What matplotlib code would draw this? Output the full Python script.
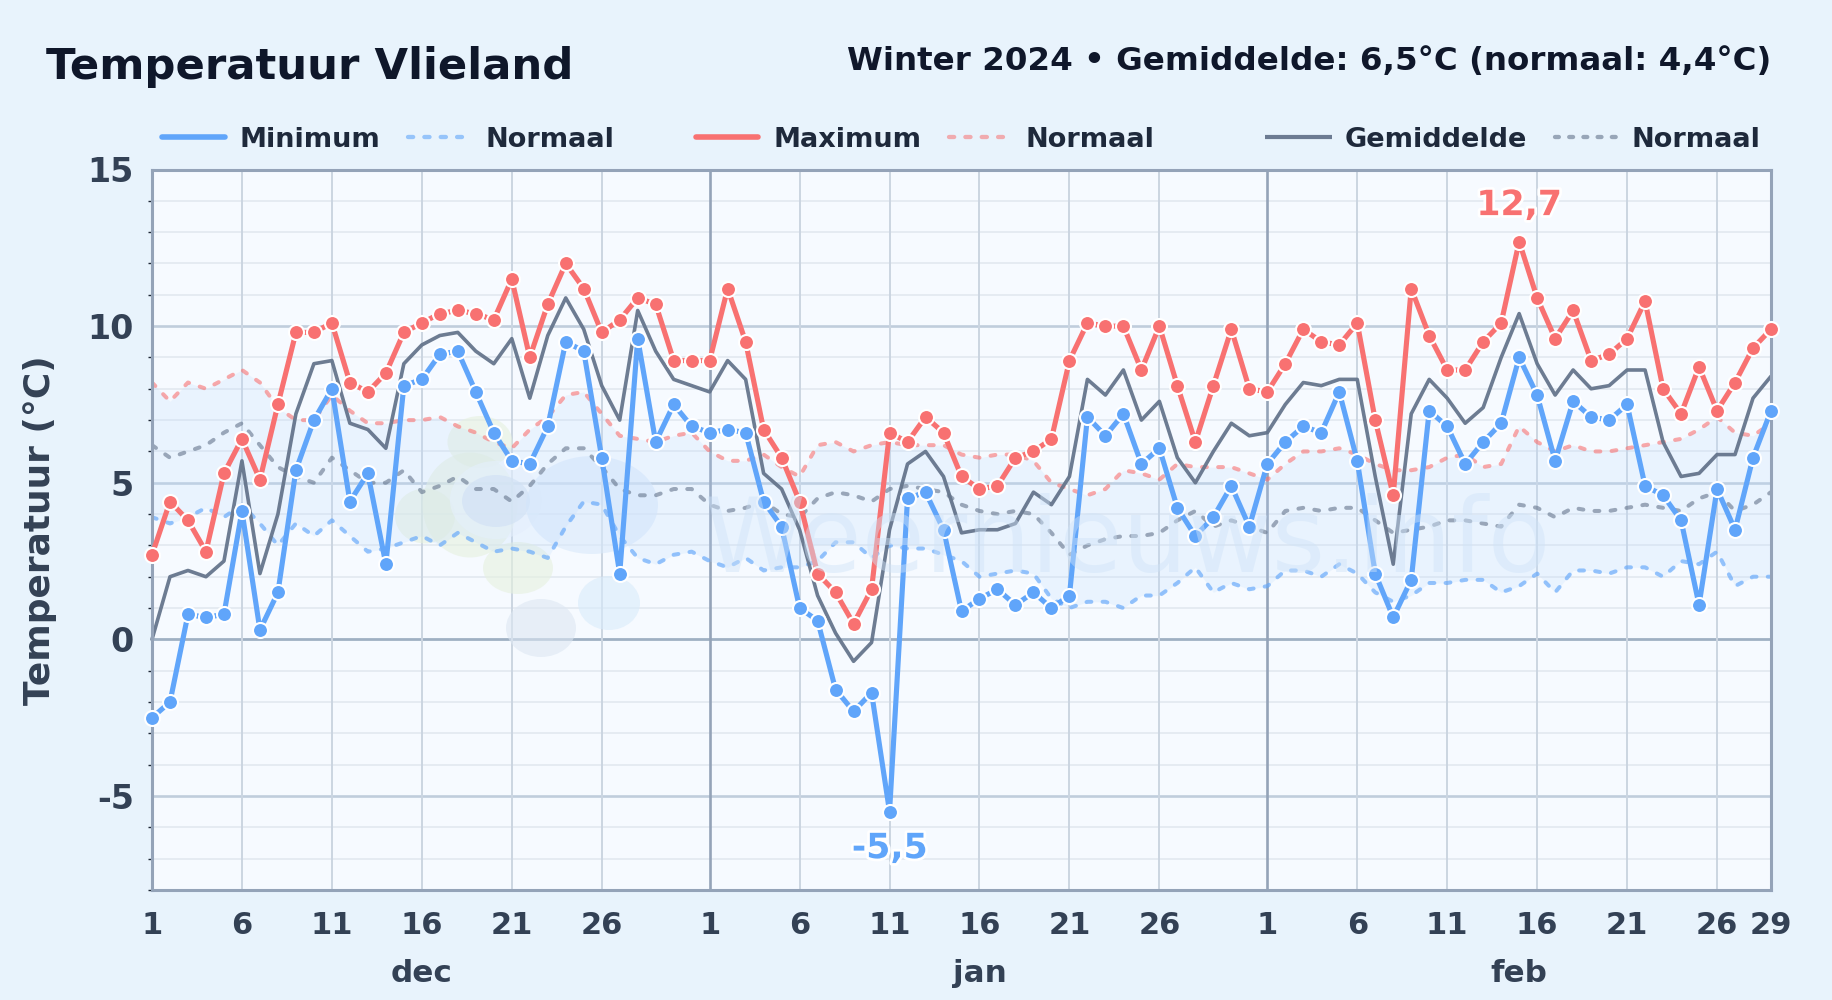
import numpy as np
import matplotlib
matplotlib.use("Agg")
import matplotlib.pyplot as plt
import matplotlib.patheffects as pe
from matplotlib.lines import Line2D
from matplotlib.patches import Ellipse
from matplotlib.ticker import FixedLocator, FixedFormatter

plt.rcParams["axes.unicode_minus"] = False

# daily values, 1 dec 2023 - 29 feb 2024
temp_min = [-2.5, -2.0, 0.8, 0.7, 0.8, 4.1, 0.3, 1.5, 5.4, 7.0, 8.0, 4.4, 5.3, 2.4, 8.1, 8.3, 9.1, 9.2, 7.9, 6.6,
            5.7, 5.6, 6.8, 9.5, 9.2, 5.8, 2.1, 9.6, 6.3, 7.5, 6.8,
            6.6, 6.7, 6.6, 4.4, 3.6, 1.0, 0.6, -1.6, -2.3, -1.7, -5.5, 4.5, 4.7, 3.5, 0.9, 1.3, 1.6, 1.1, 1.5, 1.0,
            1.4, 7.1, 6.5, 7.2, 5.6, 6.1, 4.2, 3.3, 3.9, 4.9, 3.6,
            5.6, 6.3, 6.8, 6.6, 7.9, 5.7, 2.1, 0.7, 1.9, 7.3, 6.8, 5.6, 6.3, 6.9, 9.0, 7.8, 5.7, 7.6, 7.1, 7.0,
            7.5, 4.9, 4.6, 3.8, 1.1, 4.8, 3.5, 5.8, 7.3]
temp_max = [2.7, 4.4, 3.8, 2.8, 5.3, 6.4, 5.1, 7.5, 9.8, 9.8, 10.1, 8.2, 7.9, 8.5, 9.8, 10.1, 10.4, 10.5, 10.4, 10.2,
            11.5, 9.0, 10.7, 12.0, 11.2, 9.8, 10.2, 10.9, 10.7, 8.9, 8.9,
            8.9, 11.2, 9.5, 6.7, 5.8, 4.4, 2.1, 1.5, 0.5, 1.6, 6.6, 6.3, 7.1, 6.6, 5.2, 4.8, 4.9, 5.8, 6.0, 6.4,
            8.9, 10.1, 10.0, 10.0, 8.6, 10.0, 8.1, 6.3, 8.1, 9.9, 8.0,
            7.9, 8.8, 9.9, 9.5, 9.4, 10.1, 7.0, 4.6, 11.2, 9.7, 8.6, 8.6, 9.5, 10.1, 12.7, 10.9, 9.6, 10.5, 8.9, 9.1,
            9.6, 10.8, 8.0, 7.2, 8.7, 7.3, 8.2, 9.3, 9.9]
temp_mean = [0.0, 2.0, 2.2, 2.0, 2.5, 5.7, 2.1, 4.0, 7.2, 8.8, 8.9, 6.9, 6.7, 6.1, 8.8, 9.4, 9.7, 9.8, 9.2, 8.8,
             9.6, 7.7, 9.7, 10.9, 9.9, 8.1, 7.0, 10.5, 9.2, 8.3, 8.1,
             7.9, 8.9, 8.3, 5.3, 4.8, 3.5, 1.4, 0.2, -0.7, -0.1, 3.5, 5.6, 6.0, 5.2, 3.4, 3.5, 3.5, 3.7, 4.7, 4.3,
             5.2, 8.3, 7.8, 8.6, 7.0, 7.6, 5.8, 5.0, 6.0, 6.9, 6.5,
             6.6, 7.5, 8.2, 8.1, 8.3, 8.3, 5.2, 2.4, 7.2, 8.3, 7.7, 6.9, 7.4, 9.0, 10.4, 8.8, 7.8, 8.6, 8.0, 8.1,
             8.6, 8.6, 6.3, 5.2, 5.3, 5.9, 5.9, 7.7, 8.4]
norm_min = [3.9, 3.7, 3.9, 4.2, 3.9, 4.3, 3.7, 3.0, 3.7, 3.3, 3.8, 3.3, 2.8, 2.9, 3.1, 3.3, 3.0, 3.4, 3.1, 2.8,
            2.9, 2.8, 2.6, 3.6, 4.4, 4.3, 3.3, 2.6, 2.4, 2.7, 2.8,
            2.5, 2.3, 2.6, 2.2, 2.3, 2.3, 2.5, 3.1, 3.1, 2.6, 3.0, 2.9, 2.9, 2.7, 2.5, 2.0, 2.1, 2.2, 2.1, 1.3,
            1.0, 1.2, 1.2, 1.0, 1.4, 1.4, 1.8, 2.3, 1.5, 1.8, 1.6,
            1.7, 2.2, 2.2, 2.0, 2.4, 2.1, 1.5, 1.2, 1.4, 1.8, 1.8, 1.9, 1.9, 1.5, 1.7, 2.1, 1.5, 2.2, 2.2, 2.1,
            2.3, 2.3, 2.0, 2.5, 2.4, 2.8, 1.7, 2.0, 2.0]
norm_max = [8.2, 7.6, 8.2, 8.0, 8.3, 8.6, 8.2, 7.4, 7.0, 7.0, 7.8, 7.3, 6.9, 6.9, 7.0, 7.0, 7.1, 6.8, 6.6, 6.3,
            6.1, 6.7, 7.1, 7.8, 7.9, 7.2, 6.5, 6.4, 6.3, 6.5, 6.6,
            6.0, 5.7, 5.7, 5.9, 5.5, 5.2, 6.2, 6.3, 6.0, 6.2, 6.3, 6.2, 6.2, 6.2, 5.9, 5.8, 5.9, 5.9, 5.7, 5.0,
            4.8, 4.6, 4.8, 5.4, 5.3, 5.1, 5.6, 5.5, 5.5, 5.5, 5.3,
            5.1, 5.6, 6.0, 6.0, 6.1, 5.9, 5.6, 5.4, 5.4, 5.5, 5.8, 5.9, 5.5, 5.6, 6.8, 6.3, 6.0, 6.2, 6.0, 6.0,
            6.1, 6.2, 6.3, 6.4, 6.7, 7.1, 6.6, 6.5, 6.9]
norm_mean = [6.2, 5.8, 6.0, 6.2, 6.6, 6.9, 6.2, 5.5, 5.2, 5.0, 5.8, 5.4, 5.0, 5.0, 5.4, 4.7, 4.9, 5.2, 4.8, 4.8,
             4.4, 4.9, 5.6, 6.1, 6.1, 5.5, 4.8, 4.6, 4.6, 4.8, 4.8,
             4.3, 4.1, 4.2, 4.4, 4.0, 3.9, 4.5, 4.7, 4.6, 4.4, 4.8, 4.9, 4.8, 4.7, 4.3, 4.1, 4.0, 4.1, 4.0, 3.4,
             2.7, 3.0, 3.2, 3.3, 3.3, 3.4, 3.8, 4.1, 3.6, 3.8, 3.6,
             3.4, 4.1, 4.2, 4.1, 4.2, 4.2, 3.8, 3.4, 3.5, 3.6, 3.8, 3.8, 3.7, 3.6, 4.3, 4.2, 3.9, 4.2, 4.1, 4.1,
             4.2, 4.3, 4.2, 4.1, 4.5, 4.7, 4.1, 4.3, 4.7]

month_names = ["dec", "jan", "feb"]
month_starts = [0, 31, 62]
month_centers = [15, 46, 76]
day_ticks = [0, 5, 10, 15, 20, 25, 31, 36, 41, 46, 51, 56, 62, 67, 72, 77, 82, 87, 90]
day_labels = ["1", "6", "11", "16", "21", "26", "1", "6", "11", "16", "21", "26", "1", "6", "11", "16", "21", "26", "29"]

BLUE = "#60a5fa"
RED = "#f87171"
GREY = "#64748b"
INK = "#0f172a"
LABEL = "#334155"
W, H = 1832, 1000

days = np.arange(len(temp_min))

fig = plt.figure(figsize=(W / 100, H / 100), dpi=100, facecolor="#e8f3fc")
ax = fig.add_axes([152 / W, 1 - 890 / H, (1771 - 152) / W, (890 - 169.5) / H], facecolor="#f6faff")
ax.set_xlim(0, 90)
ax.set_ylim(-8, 15)

# grid
for y in range(-7, 15):
    if y % 5:
        ax.axhline(y, color="#e4eaf1", lw=1.3, zorder=1)
    elif y:
        ax.axhline(y, color="#c0cddc", lw=1.9, zorder=1)
ax.axhline(0, color="#9fb0c3", lw=2.0, zorder=1)
for d in day_ticks:
    ax.axvline(d, color="#94a3b8" if d in month_starts else "#cbd5e1", lw=1.9 if d in month_starts else 1.4, zorder=1)

# faint logo + site name behind the data (pixel positions of the figure)
blobs = [(470, 505, 95, 105, "#e6f1df"), (480, 442, 65, 52, "#e6f1df"), (425, 516, 60, 55, "#e6f1df"),
         (518, 568, 70, 52, "#e6f1df"), (496, 500, 92, 78, "#f0f6fd"), (496, 501, 68, 52, "#d4e2f2"),
         (592, 505, 132, 98, "#d8e9fb"), (541, 628, 70, 58, "#dde7f3"), (609, 603, 62, 54, "#d8ebfb")]
for bx, by, bw, bh, col in blobs:
    ax.add_patch(Ellipse((bx, H - by), bw, bh, transform=None, facecolor=col, edgecolor="none", alpha=0.6, zorder=1.2))
fig.text(1127 / W, 1 - 572 / H, "Weernieuws.info", fontsize=74, color="#cfe3f8", alpha=0.45, ha="center", va="baseline", zorder=1.3)

# normal band
ax.fill_between(days, norm_min, norm_max, color="#bfdbfe", alpha=0.22, lw=0, zorder=1.5)

dash = (0, (1.2, 2.8))
line_kw = dict(clip_on=False, solid_capstyle="round")
ax.plot(days, norm_min, color=BLUE, alpha=0.65, lw=2.9, ls=dash, dash_capstyle="round", zorder=2)
ax.plot(days, norm_max, color=RED, alpha=0.6, lw=2.9, ls=dash, dash_capstyle="round", zorder=2)
ax.plot(days, norm_mean, color=GREY, alpha=0.6, lw=2.9, ls=dash, dash_capstyle="round", zorder=2)
ax.plot(days, temp_mean, color=GREY, alpha=0.94, lw=2.6, zorder=3, **line_kw)
ax.plot(days, temp_max, color=RED, lw=3.7, marker="o", ms=10.8, mfc=RED, mec="white", mew=1.5, zorder=4, **line_kw)
ax.plot(days, temp_min, color=BLUE, lw=3.7, marker="o", ms=10.8, mfc=BLUE, mec="white", mew=1.5, zorder=5, **line_kw)

# extremes
halo = [pe.withStroke(linewidth=4, foreground="white")]
i_hi = int(np.argmax(temp_max))
i_lo = int(np.argmin(temp_min))
ax.annotate(f"{temp_max[i_hi]:.1f}".replace(".", ","), (i_hi, temp_max[i_hi]), xytext=(0, 14), textcoords="offset points",
            ha="center", va="bottom", fontsize=25, fontweight="bold", color=RED, path_effects=halo, zorder=6)
ax.annotate(f"{temp_min[i_lo]:.1f}".replace(".", ","), (i_lo, temp_min[i_lo]), xytext=(0, -14), textcoords="offset points",
            ha="center", va="top", fontsize=25, fontweight="bold", color=BLUE, path_effects=halo, zorder=6)

# axes
for s in ax.spines.values():
    s.set_color("#94a3b8")
    s.set_linewidth(2.2)
    s.set_zorder(3.5)
ax.yaxis.set_major_locator(FixedLocator(range(-5, 16, 5)))
ax.yaxis.set_minor_locator(FixedLocator([y for y in range(-8, 15) if y % 5]))
ax.xaxis.set_major_locator(FixedLocator(day_ticks))
ax.xaxis.set_major_formatter(FixedFormatter(day_labels))
ax.tick_params(axis="y", which="major", length=0, pad=13, labelsize=24, labelcolor=LABEL)
ax.tick_params(axis="y", which="minor", length=3, width=1, color="#1f2937")
ax.tick_params(axis="x", which="major", length=0, pad=15, labelsize=22, labelcolor=LABEL)
for lab in ax.get_xticklabels() + ax.get_yticklabels():
    lab.set_fontweight("bold")
for name, c in zip(month_names, month_centers):
    ax.annotate(name, (c, 0), xycoords=("data", "axes fraction"), xytext=(0, -60), textcoords="offset points",
                ha="center", va="center", fontsize=22.3, fontweight="bold", color=LABEL)

fig.text(40 / W, 1 - 530 / H, "Temperatuur (°C)", rotation=90, ha="center", va="center", fontsize=25.9,
         fontweight="bold", color=LABEL)
fig.text(46 / W, 1 - 79 / H, "Temperatuur Vlieland", ha="left", va="baseline", fontsize=31.2, fontweight="bold", color=INK)
fig.text(1771 / W, 1 - 70 / H, "Winter 2024 • Gemiddelde: 6,5°C (normaal: 4,4°C)", ha="right", va="baseline", fontsize=23.4,
         fontweight="bold", color=INK)

# legend drawn by hand, it has three groups with their own spacing
legend_items = [
    ("Minimum", BLUE, 1.0, "-", 4.0, 162, 225, 240),
    ("Normaal", BLUE, 0.6, (0, (1.2, 2.6)), 3.1, 408, 462, 486),
    ("Maximum", RED, 1.0, "-", 4.0, 696, 758, 773),
    ("Normaal", RED, 0.55, (0, (1.2, 2.6)), 3.1, 949, 1003, 1026),
    ("Gemiddelde", GREY, 0.94, "-", 3.0, 1265, 1332, 1345),
    ("Normaal", GREY, 0.6, (0, (0.9, 2.4)), 3.1, 1555, 1616, 1632),
]
for text, col, alpha, ls, lw, x0, x1, tx in legend_items:
    cap = "butt" if text == "Gemiddelde" else "round"
    fig.add_artist(Line2D([x0 / W, x1 / W], [1 - 136.5 / H] * 2, color=col, alpha=alpha, ls=ls, lw=lw,
                          solid_capstyle=cap, dash_capstyle="round"))
    fig.text(tx / W, 1 - 136.5 / H, text, ha="left", va="center_baseline", fontsize=19.5, fontweight="bold", color="#1e293b")

fig.savefig("out.png", dpi=100, facecolor=fig.get_facecolor())
